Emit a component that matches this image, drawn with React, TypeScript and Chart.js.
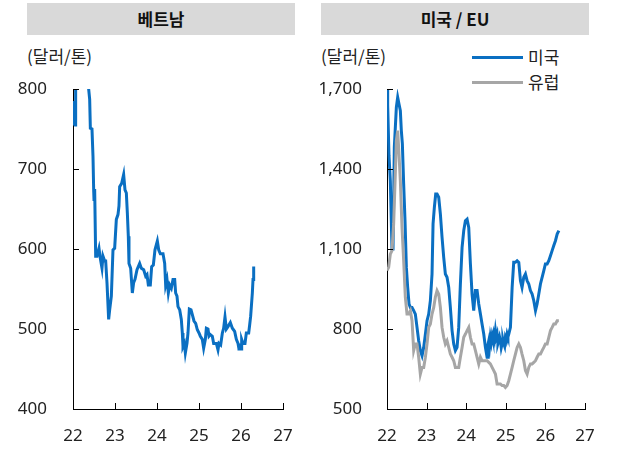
import React, { useEffect, useRef } from "react";
import { Chart, registerables } from "chart.js";

Chart.register(...registerables);

// ---------- Data ----------
const xTicks = [22, 23, 24, 25, 26, 27];

// Vietnam (달러/톤)
const vnX = [22.0, 22.016, 22.048, 22.063, 22.12, 22.24, 22.33, 22.373, 22.397, 22.413, 22.452, 22.476, 22.492, 22.5, 22.516, 22.54, 22.571, 22.619, 22.651, 22.69, 22.714, 22.754, 22.778, 22.81, 22.849, 22.873, 22.913, 22.952, 22.992, 23.032, 23.071, 23.095, 23.111, 23.159, 23.206, 23.238, 23.27, 23.294, 23.317, 23.333, 23.373, 23.413, 23.444, 23.476, 23.524, 23.587, 23.627, 23.683, 23.73, 23.762, 23.794, 23.841, 23.873, 23.913, 23.952, 24.008, 24.04, 24.079, 24.143, 24.183, 24.206, 24.238, 24.27, 24.302, 24.341, 24.381, 24.421, 24.444, 24.476, 24.5, 24.54, 24.579, 24.603, 24.619, 24.651, 24.675, 24.714, 24.738, 24.77, 24.81, 24.841, 24.881, 24.921, 24.96, 25.0, 25.032, 25.079, 25.111, 25.151, 25.175, 25.214, 25.238, 25.27, 25.317, 25.349, 25.413, 25.452, 25.476, 25.516, 25.556, 25.587, 25.619, 25.651, 25.69, 25.746, 25.794, 25.849, 25.889, 25.929, 25.952, 26.0, 26.016, 26.048, 26.095, 26.127, 26.183, 26.206, 26.23, 26.27, 26.286, 26.302];
const vnY = [785, 757, 755, 810, 840, 830, 815, 800, 787, 751, 750, 716, 674, 662, 675, 591, 591, 601, 588, 576, 591, 585, 585, 557, 512, 524, 541, 599, 601, 637, 643, 654, 678, 682, 693, 674, 670, 645, 616, 582, 576, 545, 558, 562, 574, 582, 576, 574, 566, 568, 555, 555, 578, 580, 599, 610, 599, 594, 594, 582, 555, 562, 545, 555, 551, 562, 562, 545, 541, 528, 524, 512, 495, 478, 482, 470, 482, 495, 525, 524, 518, 510, 507, 499, 495, 491, 487, 476, 487, 501, 500, 491, 493, 491, 482, 482, 474, 482, 480, 495, 501, 515, 500, 503, 508, 501, 497, 487, 482, 475, 475, 487, 482, 482, 495, 495, 505, 516, 545, 562, 578];

// US / EU (달러/톤)
const usX = [22.0, 22.017, 22.05, 22.084, 22.126, 22.152, 22.185, 22.236, 22.27, 22.303, 22.337, 22.362, 22.388, 22.421, 22.455, 22.489, 22.522, 22.556, 22.59, 22.632, 22.674, 22.716, 22.758, 22.8, 22.842, 22.885, 22.927, 22.969, 23.011, 23.053, 23.095, 23.137, 23.163, 23.196, 23.23, 23.264, 23.306, 23.348, 23.39, 23.432, 23.474, 23.516, 23.559, 23.6, 23.643, 23.685, 23.727, 23.769, 23.811, 23.853, 23.896, 23.938, 23.98, 24.022, 24.064, 24.106, 24.148, 24.19, 24.233, 24.275, 24.317, 24.359, 24.4, 24.443, 24.485, 24.527, 24.548, 24.57, 24.59, 24.61, 24.632, 24.654, 24.675, 24.696, 24.717, 24.738, 24.759, 24.78, 24.801, 24.822, 24.843, 24.864, 24.885, 24.906, 24.927, 24.949, 24.97, 24.99, 25.012, 25.033, 25.054, 25.075, 25.117, 25.16, 25.2, 25.243, 25.286, 25.328, 25.37, 25.41, 25.454, 25.496, 25.538, 25.58, 25.622, 25.665, 25.707, 25.75, 25.79, 25.833, 25.875, 25.917, 25.96, 26.0, 26.044, 26.086, 26.128, 26.17, 26.212, 26.254, 26.297, 26.34];
const usY = [1700, 1640, 1450, 1356, 1100, 1100, 1481, 1631, 1669, 1644, 1619, 1544, 1494, 1344, 1206, 1031, 956, 894, 881, 881, 869, 856, 806, 756, 719, 700, 731, 781, 831, 856, 906, 1006, 1194, 1256, 1306, 1306, 1294, 1231, 1144, 1069, 1006, 994, 956, 881, 794, 744, 719, 731, 806, 969, 1106, 1169, 1206, 1212, 1181, 1044, 931, 869, 944, 944, 894, 856, 819, 781, 731, 694, 740, 756, 735, 769, 750, 775, 760, 781, 765, 794, 770, 781, 745, 756, 770, 756, 730, 744, 760, 744, 735, 769, 760, 781, 770, 781, 806, 956, 1050, 1050, 1056, 1050, 981, 956, 994, 1006, 981, 969, 944, 931, 906, 869, 894, 931, 969, 994, 1019, 1044, 1044, 1056, 1075, 1094, 1113, 1131, 1156, 1169];

const euX = [22.0, 22.042, 22.084, 22.126, 22.168, 22.21, 22.236, 22.27, 22.303, 22.337, 22.379, 22.421, 22.463, 22.505, 22.548, 22.59, 22.632, 22.674, 22.716, 22.758, 22.8, 22.842, 22.885, 22.927, 22.969, 23.011, 23.053, 23.095, 23.137, 23.18, 23.22, 23.264, 23.306, 23.348, 23.39, 23.432, 23.474, 23.516, 23.559, 23.6, 23.643, 23.685, 23.727, 23.769, 23.811, 23.853, 23.896, 23.938, 23.98, 24.022, 24.064, 24.106, 24.148, 24.19, 24.233, 24.275, 24.317, 24.359, 24.4, 24.443, 24.485, 24.527, 24.57, 24.61, 24.654, 24.696, 24.738, 24.78, 24.822, 24.864, 24.906, 24.949, 24.99, 25.033, 25.075, 25.117, 25.16, 25.2, 25.243, 25.286, 25.328, 25.37, 25.41, 25.454, 25.496, 25.538, 25.58, 25.622, 25.665, 25.707, 25.75, 25.79, 25.833, 25.875, 25.917, 25.96, 26.0, 26.044, 26.086, 26.128, 26.17, 26.212, 26.254, 26.297, 26.34];
const euY = [1019, 1031, 1081, 1094, 1194, 1381, 1506, 1544, 1456, 1356, 1181, 1056, 919, 856, 856, 869, 831, 719, 744, 744, 694, 631, 656, 656, 694, 744, 806, 819, 856, 881, 919, 944, 931, 881, 806, 769, 744, 756, 731, 706, 694, 681, 656, 656, 656, 694, 731, 769, 781, 794, 806, 769, 744, 744, 719, 694, 669, 694, 681, 681, 681, 681, 675, 669, 656, 644, 631, 594, 594, 594, 588, 588, 581, 588, 606, 631, 656, 681, 706, 731, 744, 731, 706, 681, 644, 631, 656, 669, 669, 675, 681, 694, 706, 706, 719, 731, 744, 744, 769, 794, 806, 819, 819, 831, 831];

const BLUE = "#0a6fc2";
const GRAY = "#a6a6a6";
const FONT = "'Noto Sans', 'Noto Sans CJK KR', sans-serif";
const KFONT = "'Noto Sans CJK KR', 'Noto Sans', sans-serif";

const toPts = (xs: number[], ys: number[]) => xs.map((x, i) => ({ x, y: ys[i] }));

const innerTicks = {
  id: "innerTicks",
  afterDraw(chart: any) {
    const { ctx, chartArea, scales } = chart;
    ctx.save();
    ctx.strokeStyle = "#000";
    ctx.lineWidth = 1;
    ctx.beginPath();
    scales.x.ticks.forEach((t: any) => {
      const px = Math.round(scales.x.getPixelForValue(t.value)) + 0.5;
      ctx.moveTo(px, chartArea.bottom);
      ctx.lineTo(px, chartArea.bottom - 6);
    });
    scales.y.ticks.forEach((t: any) => {
      const py = Math.round(scales.y.getPixelForValue(t.value)) + 0.5;
      ctx.moveTo(chartArea.left, py);
      ctx.lineTo(chartArea.left + 6, py);
    });
    ctx.stroke();
    ctx.restore();
  },
};

function makeConfig(
  datasets: any[],
  yMin: number,
  yMax: number,
  yStep: number,
  yWidth: number,
  yPad: number,
  rightPad: number
): any {
  return {
    type: "line",
    data: { datasets },
    options: {
      animation: false,
      responsive: false,
      maintainAspectRatio: false,
      layout: { padding: { top: 89, right: rightPad, left: 0, bottom: 0 } },
      plugins: { legend: { display: false }, tooltip: { enabled: false } },
      elements: { point: { radius: 0 }, line: { tension: 0 } },
      scales: {
        x: {
          type: "linear",
          min: 22,
          max: 27,
          afterBuildTicks: (s: any) => {
            s.ticks = xTicks.map((v) => ({ value: v }));
          },
          ticks: { padding: 17, color: "#222", font: { family: FONT, size: 17 } },
          grid: { display: true, drawOnChartArea: false, drawTicks: false },
          border: { display: true, color: "#000", width: 1 },
          afterFit: (s: any) => {
            s.height = 48;
          },
        },
        y: {
          min: yMin,
          max: yMax,
          ticks: {
            stepSize: yStep,
            padding: yPad,
            color: "#222",
            font: { family: FONT, size: 17 },
            callback: (v: number) => v.toLocaleString("en-US"),
          },
          grid: { display: true, drawOnChartArea: false, drawTicks: false },
          border: { display: true, color: "#000", width: 1 },
          afterFit: (s: any) => {
            s.width = yWidth;
          },
        },
      },
    },
    plugins: [innerTicks],
  };
}

function ChartCanvas({ config, width, height, left }: any) {
  const ref = useRef<HTMLCanvasElement | null>(null);
  useEffect(() => {
    if (!ref.current) return;
    const chart = new Chart(ref.current, config);
    return () => chart.destroy();
  }, []);
  return (
    <canvas
      ref={ref}
      width={width}
      height={height}
      style={{ position: "absolute", left, top: 0, width, height, display: "block" }}
    />
  );
}

const titleStyle = (left: number, width: number): React.CSSProperties => ({
  position: "absolute",
  left,
  top: 3,
  width,
  height: 32,
  background: "#d9d9d9",
  fontFamily: KFONT,
  fontWeight: 700,
  fontSize: 17,
  lineHeight: "32px",
  textAlign: "center",
  color: "#111",
});

const textStyle = (left: number, top: number): React.CSSProperties => ({
  position: "absolute",
  left,
  top,
  fontFamily: KFONT,
  fontSize: 17,
  lineHeight: "20px",
  color: "#222",
  whiteSpace: "nowrap",
});

export default function App() {
  const vnConfig = makeConfig(
    [{ data: toPts(vnX, vnY), borderColor: BLUE, borderWidth: 3, fill: false }],
    400,
    800,
    100,
    73,
    26,
    27
  );
  const usConfig = makeConfig(
    [
      { data: toPts(euX, euY), borderColor: GRAY, borderWidth: 3, fill: false },
      { data: toPts(usX, usY), borderColor: BLUE, borderWidth: 3, fill: false },
    ],
    500,
    1700,
    300,
    77,
    25,
    38
  );
  return (
    <div style={{ position: "absolute", left: 0, top: 0, width: 623, height: 457, background: "#fff", overflow: "hidden" }}>
      <div style={titleStyle(27, 268)}>베트남</div>
      <div style={titleStyle(321, 268)}>미국 / EU</div>
      <div style={textStyle(27, 46)}>(달러/톤)</div>
      <div style={textStyle(321, 46)}>(달러/톤)</div>
      <div style={{ position: "absolute", left: 472, top: 56, width: 51, height: 3, background: BLUE }} />
      <div style={textStyle(528, 47)}>미국</div>
      <div style={{ position: "absolute", left: 472, top: 81, width: 51, height: 3, background: GRAY }} />
      <div style={textStyle(528, 72)}>유럽</div>
      <ChartCanvas config={vnConfig} width={310} height={457} left={0} />
      <ChartCanvas config={usConfig} width={313} height={457} left={310} />
    </div>
  );
}
